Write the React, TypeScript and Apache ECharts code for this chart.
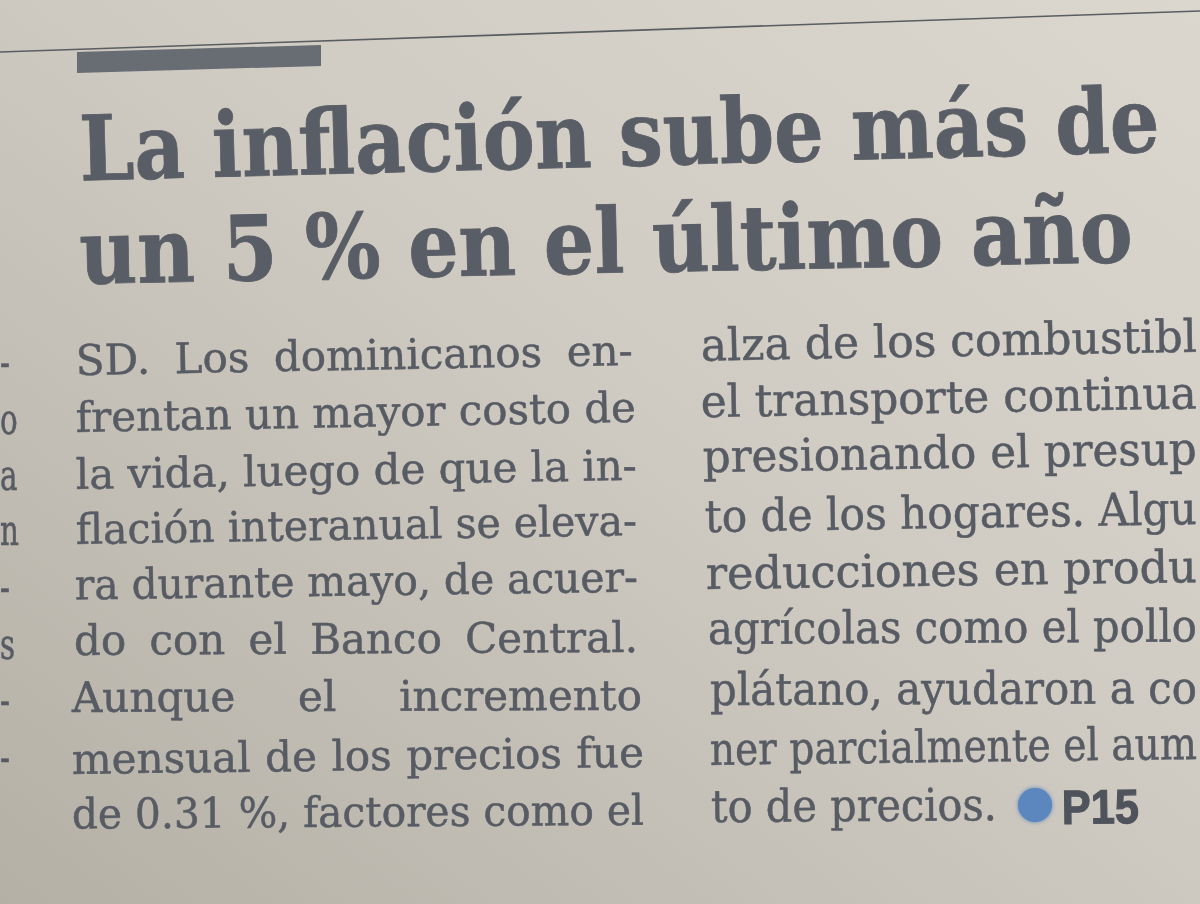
import React, { useEffect, useRef } from "react";
import * as echarts from "echarts";

// ---------- content (text) ----------
const HEADLINE_LINES = ["La inflación sube más de", "un 5 % en el último año"];
const LEFT_COLUMN_LINES = [
  "SD. Los dominicanos en-",
  "frentan un mayor costo de",
  "la vida, luego de que la in-",
  "flación interanual se eleva-",
  "ra durante mayo, de acuer-",
  "do con el Banco Central.",
  "Aunque el incremento",
  "mensual de los precios fue",
  "de 0.31 %, factores como el",
];
const RIGHT_COLUMN_LINES = [
  "alza de los combustibl",
  "el transporte continua",
  "presionando el presup",
  "to de los hogares. Algu",
  "reducciones en produ",
  "agrícolas como el pollo",
  "plátano, ayudaron a co",
  "ner parcialmente el aum",
  "to de precios.",
];
const PAGE_REF = "P15";
const PREV_COLUMN_ENDINGS = ["-", "o", "a", "n", "-", "s", "-", "-"];

// ---------- layout (positions / sizes / styles) ----------
const W = 1200;
const H = 904;
const SERIF = "DejaVu Serif";
const SANS = "Liberation Sans";
const HEAD_SIZE = 90;
const LEFT_SIZE = 42;
const RIGHT_SIZE = 45;
const HEAD_COLOR = "#595d65";
const BODY_COLOR = "#575b63";

const HEAD_X0 = [80, 80];
const HEAD_X1 = [1160, 1133];
const HEAD_Y0 = [176, 279];
const HEAD_Y1 = [147, 257];

const LEFT_X0 = [76, 76, 76, 76, 75, 74, 72, 72, 72];
const LEFT_X1 = [633, 636, 637, 637, 638, 638, 642, 644, 644];
const LEFT_Y0 = [373, 430, 487, 542, 598, 653, 710, 772, 827];
const LEFT_Y1 = [363, 420, 478, 533, 590, 650, 708, 765, 823];

const RIGHT_X0 = [701, 701, 703, 705, 706, 708, 710, 710, 711];
const RIGHT_X1 = [1197, 1197, 1197, 1197, 1197, 1197, 1197, 1197, 997];
const RIGHT_Y0 = [359, 415, 470, 530, 587, 642, 703, 763, 820];

const MARGIN_Y = [375, 432, 488, 543, 600, 657, 713, 770];

const BASELINE_SHIFT = 0.3; // middle of text box above the baseline, in em

let measureCtx: CanvasRenderingContext2D | null = null;
function measure(text: string, size: number, weight: string, family: string) {
  if (!measureCtx) measureCtx = document.createElement("canvas").getContext("2d");
  const ctx = measureCtx!;
  ctx.font = `${weight} ${size}px "${family}"`;
  return ctx.measureText(text).width;
}

function lineGroup(
  text: string,
  x0: number,
  y0: number,
  x1: number,
  y1: number,
  size: number,
  weight: string,
  family: string,
  fill: string,
  justify: boolean,
  strokeW = 0
) {
  const words = text.split(/\s+/).filter(Boolean);
  const widths = words.map((w) => measure(w, size, weight, family));
  const space = measure(" ", size, weight, family);
  const sumW = widths.reduce((a, b) => a + b, 0);
  const len = Math.hypot(x1 - x0, y1 - y0);
  const natural = sumW + space * (words.length - 1);
  let sx = 1;
  let gap = space;
  if (!justify || words.length === 1 || natural > len) {
    sx = len / natural;
  } else {
    gap = (len - sumW) / (words.length - 1);
  }
  let cx = 0;
  const children = words.map((w, i) => {
    const el = {
      type: "text",
      x: cx,
      y: -BASELINE_SHIFT * size,
      style: {
        text: w,
        fontFamily: family,
        fontSize: size,
        fontWeight: weight,
        fill,
        stroke: strokeW > 0 ? fill : undefined,
        lineWidth: strokeW,
        align: "left",
        verticalAlign: "middle",
      },
    };
    cx += widths[i] + gap;
    return el;
  });
  return {
    type: "group",
    x: x0,
    y: y0,
    rotation: Math.atan2(y0 - y1, x1 - x0),
    scaleX: sx,
    children,
  };
}

function buildOption() {
  const elements: any[] = [];

  // paper
  elements.push({
    type: "rect",
    shape: { x: 0, y: 0, width: W, height: H },
    style: {
      fill: {
        type: "linear",
        x: 1,
        y: 0,
        x2: 0,
        y2: 1,
        colorStops: [
          { offset: 0, color: "#dbd7cf" },
          { offset: 0.45, color: "#d0cbc2" },
          { offset: 1, color: "#b5b0a6" },
        ],
      },
    },
  });

  // top rule
  elements.push({
    type: "line",
    shape: { x1: 0, y1: 52, x2: W, y2: 11 },
    style: { stroke: "#5a5d62", lineWidth: 1.6 },
  });

  // dark tab
  elements.push({
    type: "polygon",
    shape: {
      points: [
        [77, 52],
        [321, 45],
        [321, 66],
        [77, 73],
      ],
    },
    style: { fill: "#686c73" },
  });

  // headline
  HEADLINE_LINES.forEach((t, i) => {
    elements.push(
      lineGroup(t, HEAD_X0[i], HEAD_Y0[i], HEAD_X1[i], HEAD_Y1[i], HEAD_SIZE, "bold", SERIF, HEAD_COLOR, false, 0.8)
    );
  });

  // left column
  LEFT_COLUMN_LINES.forEach((t, i) => {
    elements.push(
      lineGroup(t, LEFT_X0[i], LEFT_Y0[i], LEFT_X1[i], LEFT_Y1[i], LEFT_SIZE, "normal", SERIF, BODY_COLOR, true, 0.5)
    );
  });

  // right column (same slope as the matching left line)
  RIGHT_COLUMN_LINES.forEach((t, i) => {
    const slope = (LEFT_Y1[i] - LEFT_Y0[i]) / (LEFT_X1[i] - LEFT_X0[i]);
    const y1 = RIGHT_Y0[i] + slope * (RIGHT_X1[i] - RIGHT_X0[i]);
    elements.push(
      lineGroup(t, RIGHT_X0[i], RIGHT_Y0[i], RIGHT_X1[i], y1, RIGHT_SIZE, "normal", SERIF, BODY_COLOR, true, 0.5)
    );
  });

  // ends of the previous column at the left edge
  PREV_COLUMN_ENDINGS.forEach((t, i) => {
    elements.push({
      type: "text",
      x: 0,
      y: MARGIN_Y[i] - BASELINE_SHIFT * LEFT_SIZE,
      scaleX: 0.7,
      style: {
        text: t,
        fontFamily: SERIF,
        fontSize: LEFT_SIZE,
        fill: BODY_COLOR,
        stroke: BODY_COLOR,
        lineWidth: 0.6,
        align: "left",
        verticalAlign: "middle",
      },
    });
  });

  // page reference bullet + P15
  elements.push({
    type: "circle",
    shape: { cx: 1035, cy: 805, r: 17 },
    style: { fill: "#5b87be", shadowBlur: 4, shadowColor: "#5b87be" },
  });
  elements.push(lineGroup(PAGE_REF, 1062, 822, 1139, 821, 48, "bold", SANS, "#4f535b", false, 1.2));

  return {
    animation: false,
    graphic: { elements },
  };
}

export default function App() {
  const ref = useRef<HTMLDivElement>(null);
  useEffect(() => {
    if (!ref.current) return;
    const chart = echarts.init(ref.current, undefined, { renderer: "svg" });
    chart.setOption(buildOption() as any);
    return () => chart.dispose();
  }, []);
  return (
    <div
      ref={ref}
      style={{ position: "fixed", left: 0, top: 0, width: W, height: H, overflow: "hidden" }}
    />
  );
}
